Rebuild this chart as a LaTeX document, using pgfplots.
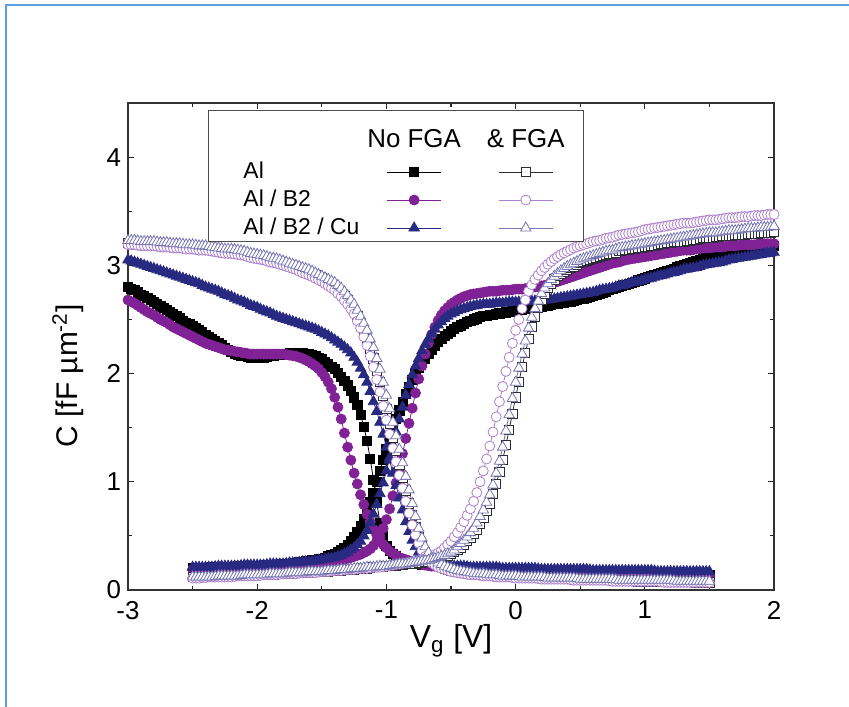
\documentclass[border=0pt]{standalone}
\usepackage{fontspec}
\setmainfont{Liberation Sans}
\usepackage{pgfplots}
\usepackage{pgfplotstable}
\pgfplotsset{compat=1.18}

\definecolor{cPur}{RGB}{128,34,150}
\definecolor{cNav}{RGB}{40,42,130}
\definecolor{cOsq}{RGB}{45,45,55}
\definecolor{cOci}{RGB}{172,128,204}
\definecolor{cOtr}{RGB}{118,118,178}
\definecolor{frameblue}{RGB}{92,160,222}

% descending sweep, no FGA: x, Al, Al/B2, Al/B2/Cu
\pgfplotstableread{
x al b2 cu
-3.000 2.80 2.68 3.05
-2.975 2.785 2.665 3.04
-2.950 2.77 2.65 3.03
-2.925 2.75 2.63 3.02
-2.900 2.73 2.61 3.01
-2.875 2.715 2.59 3.00
-2.850 2.70 2.57 2.99
-2.825 2.68 2.555 2.98
-2.800 2.66 2.54 2.97
-2.775 2.64 2.52 2.96
-2.750 2.62 2.50 2.95
-2.725 2.605 2.485 2.94
-2.700 2.59 2.47 2.93
-2.675 2.57 2.45 2.92
-2.650 2.55 2.43 2.91
-2.625 2.53 2.415 2.90
-2.600 2.51 2.40 2.89
-2.575 2.49 2.385 2.88
-2.550 2.47 2.37 2.87
-2.525 2.455 2.355 2.86
-2.500 2.44 2.34 2.85
-2.475 2.42 2.325 2.84
-2.450 2.40 2.31 2.83
-2.425 2.38 2.295 2.815
-2.400 2.36 2.28 2.80
-2.375 2.34 2.27 2.79
-2.350 2.32 2.26 2.78
-2.325 2.30 2.25 2.77
-2.300 2.28 2.24 2.76
-2.275 2.26 2.23 2.745
-2.250 2.24 2.22 2.73
-2.225 2.22 2.215 2.72
-2.200 2.20 2.21 2.71
-2.175 2.185 2.205 2.695
-2.150 2.17 2.20 2.68
-2.125 2.165 2.195 2.67
-2.100 2.16 2.19 2.66
-2.075 2.155 2.185 2.645
-2.050 2.15 2.18 2.63
-2.025 2.15 2.18 2.62
-2.000 2.15 2.18 2.61
-1.975 2.15 2.18 2.595
-1.950 2.15 2.18 2.58
-1.925 2.155 2.18 2.57
-1.900 2.16 2.18 2.56
-1.875 2.165 2.18 2.545
-1.850 2.17 2.18 2.53
-1.825 2.175 2.18 2.52
-1.800 2.18 2.18 2.51
-1.775 2.185 2.175 2.50
-1.750 2.19 2.17 2.49
-1.725 2.19 2.165 2.48
-1.700 2.19 2.16 2.47
-1.675 2.19 2.15 2.46
-1.650 2.19 2.14 2.45
-1.625 2.185 2.125 2.44
-1.600 2.18 2.11 2.43
-1.575 2.17 2.09 2.42
-1.550 2.16 2.07 2.41
-1.525 2.145 2.045 2.395
-1.500 2.13 2.01 2.38
-1.475 2.11 1.97 2.365
-1.450 2.09 1.92 2.35
-1.425 2.065 1.86 2.33
-1.400 2.04 1.78 2.31
-1.375 2.005 1.69 2.29
-1.350 1.97 1.58 2.27
-1.325 1.93 1.45 2.245
-1.300 1.89 1.32 2.22
-1.275 1.84 1.20 2.19
-1.250 1.78 1.08 2.15
-1.225 1.71 0.98 2.105
-1.200 1.62 0.88 2.05
-1.175 1.51 0.79 1.99
-1.150 1.38 0.70 1.92
-1.125 1.21 0.63 1.835
-1.100 1.02 0.56 1.74
-1.075 0.81 0.51 1.65
-1.050 0.62 0.46 1.55
-1.025 0.50 0.42 1.44
-1.000 0.41 0.39 1.32
-0.975 0.36 0.36 1.20
-0.950 0.33 0.34 1.08
-0.925 0.31 0.32 0.965
-0.900 0.29 0.30 0.85
-0.875 0.28 0.29 0.74
-0.850 0.27 0.28 0.63
-0.825 0.26 0.27 0.54
-0.800 0.25 0.26 0.46
-0.775 0.245 0.25 0.40
-0.750 0.24 0.24 0.35
-0.725 0.235 0.235 0.32
-0.700 0.23 0.23 0.29
-0.675 0.23 0.225 0.275
-0.650 0.23 0.22 0.26
-0.625 0.225 0.22 0.25
-0.600 0.22 0.22 0.24
-0.575 0.22 0.215 0.235
-0.550 0.22 0.21 0.23
-0.525 0.215 0.21 0.225
-0.500 0.21 0.21 0.22
-0.475 0.21 0.205 0.22
-0.450 0.21 0.20 0.22
-0.425 0.21 0.20 0.22
-0.400 0.21 0.20 0.22
-0.375 0.205 0.20 0.215
-0.350 0.20 0.20 0.21
-0.325 0.20 0.195 0.21
-0.300 0.20 0.19 0.21
-0.275 0.20 0.19 0.21
-0.250 0.20 0.19 0.21
-0.225 0.195 0.19 0.21
-0.200 0.19 0.19 0.21
-0.175 0.19 0.185 0.21
-0.150 0.19 0.18 0.21
-0.125 0.19 0.18 0.205
-0.100 0.19 0.18 0.20
-0.075 0.185 0.18 0.20
-0.050 0.18 0.18 0.20
-0.025 0.18 0.175 0.20
0.000 0.18 0.17 0.20
0.025 0.18 0.17 0.20
0.050 0.18 0.17 0.20
0.075 0.18 0.17 0.20
0.100 0.18 0.17 0.20
0.125 0.175 0.17 0.20
0.150 0.17 0.17 0.20
0.175 0.17 0.17 0.195
0.200 0.17 0.17 0.19
0.225 0.17 0.165 0.19
0.250 0.17 0.16 0.19
0.275 0.17 0.16 0.19
0.300 0.17 0.16 0.19
0.325 0.17 0.16 0.19
0.350 0.17 0.16 0.19
0.375 0.165 0.16 0.19
0.400 0.16 0.16 0.19
0.425 0.16 0.16 0.19
0.450 0.16 0.16 0.19
0.475 0.16 0.16 0.19
0.500 0.16 0.16 0.19
0.525 0.16 0.155 0.19
0.550 0.16 0.15 0.19
0.575 0.16 0.15 0.185
0.600 0.16 0.15 0.18
0.625 0.16 0.15 0.18
0.650 0.16 0.15 0.18
0.675 0.16 0.15 0.18
0.700 0.16 0.15 0.18
0.725 0.155 0.15 0.18
0.750 0.15 0.15 0.18
0.775 0.15 0.15 0.18
0.800 0.15 0.15 0.18
0.825 0.15 0.15 0.18
0.850 0.15 0.15 0.18
0.875 0.15 0.15 0.18
0.900 0.15 0.15 0.18
0.925 0.15 0.145 0.18
0.950 0.15 0.14 0.18
0.975 0.15 0.14 0.18
1.000 0.15 0.14 0.18
1.025 0.15 0.14 0.18
1.050 0.15 0.14 0.18
1.075 0.15 0.14 0.175
1.100 0.15 0.14 0.17
1.125 0.145 0.14 0.17
1.150 0.14 0.14 0.17
1.175 0.14 0.14 0.17
1.200 0.14 0.14 0.17
1.225 0.14 0.14 0.17
1.250 0.14 0.14 0.17
1.275 0.14 0.14 0.17
1.300 0.14 0.14 0.17
1.325 0.14 0.135 0.17
1.350 0.14 0.13 0.17
1.375 0.14 0.13 0.17
1.400 0.14 0.13 0.17
1.425 0.14 0.13 0.17
1.450 0.14 0.13 0.17
1.475 0.14 0.13 0.17
1.500 0.14 0.13 0.17
}\DN

% ascending sweep, no FGA
\pgfplotstableread{
x al b2 cu
-2.500 0.20 0.19 0.21
-2.475 0.20 0.19 0.21
-2.450 0.20 0.19 0.21
-2.425 0.20 0.19 0.21
-2.400 0.20 0.19 0.21
-2.375 0.205 0.195 0.21
-2.350 0.21 0.20 0.21
-2.325 0.21 0.20 0.215
-2.300 0.21 0.20 0.22
-2.275 0.21 0.20 0.22
-2.250 0.21 0.20 0.22
-2.225 0.21 0.20 0.22
-2.200 0.21 0.20 0.22
-2.175 0.215 0.205 0.22
-2.150 0.22 0.21 0.22
-2.125 0.22 0.21 0.225
-2.100 0.22 0.21 0.23
-2.075 0.22 0.21 0.23
-2.050 0.22 0.21 0.23
-2.025 0.22 0.21 0.23
-2.000 0.22 0.21 0.23
-1.975 0.225 0.215 0.23
-1.950 0.23 0.22 0.23
-1.925 0.23 0.22 0.235
-1.900 0.23 0.22 0.24
-1.875 0.23 0.22 0.24
-1.850 0.23 0.22 0.24
-1.825 0.235 0.22 0.24
-1.800 0.24 0.22 0.24
-1.775 0.24 0.225 0.245
-1.750 0.24 0.23 0.25
-1.725 0.245 0.23 0.25
-1.700 0.25 0.23 0.25
-1.675 0.255 0.235 0.255
-1.650 0.26 0.24 0.26
-1.625 0.265 0.24 0.26
-1.600 0.27 0.24 0.26
-1.575 0.275 0.245 0.265
-1.550 0.28 0.25 0.27
-1.525 0.285 0.25 0.275
-1.500 0.29 0.25 0.28
-1.475 0.30 0.255 0.285
-1.450 0.31 0.26 0.29
-1.425 0.32 0.265 0.295
-1.400 0.33 0.27 0.30
-1.375 0.35 0.275 0.31
-1.350 0.37 0.28 0.32
-1.325 0.39 0.285 0.335
-1.300 0.42 0.29 0.35
-1.275 0.45 0.30 0.37
-1.250 0.49 0.31 0.39
-1.225 0.54 0.32 0.42
-1.200 0.59 0.33 0.45
-1.175 0.66 0.345 0.50
-1.150 0.73 0.36 0.55
-1.125 0.81 0.38 0.62
-1.100 0.90 0.41 0.70
-1.075 1.00 0.45 0.79
-1.050 1.10 0.50 0.89
-1.025 1.20 0.57 0.99
-1.000 1.30 0.65 1.10
-0.975 1.40 0.75 1.22
-0.950 1.49 0.87 1.34
-0.925 1.58 0.99 1.46
-0.900 1.66 1.12 1.58
-0.875 1.74 1.26 1.69
-0.850 1.81 1.40 1.80
-0.825 1.88 1.54 1.90
-0.800 1.94 1.68 1.99
-0.775 2.00 1.82 2.07
-0.750 2.05 1.95 2.14
-0.725 2.10 2.07 2.21
-0.700 2.14 2.18 2.27
-0.675 2.18 2.28 2.32
-0.650 2.22 2.36 2.37
-0.625 2.26 2.43 2.41
-0.600 2.29 2.49 2.45
-0.575 2.32 2.54 2.48
-0.550 2.35 2.58 2.51
-0.525 2.37 2.61 2.53
-0.500 2.39 2.64 2.55
-0.475 2.41 2.66 2.565
-0.450 2.43 2.68 2.58
-0.425 2.445 2.695 2.59
-0.400 2.46 2.71 2.60
-0.375 2.475 2.72 2.61
-0.350 2.49 2.73 2.62
-0.325 2.50 2.735 2.625
-0.300 2.51 2.74 2.63
-0.275 2.52 2.745 2.635
-0.250 2.53 2.75 2.64
-0.225 2.535 2.755 2.64
-0.200 2.54 2.76 2.64
-0.175 2.545 2.76 2.645
-0.150 2.55 2.76 2.65
-0.125 2.555 2.765 2.65
-0.100 2.56 2.77 2.65
-0.075 2.565 2.77 2.655
-0.050 2.57 2.77 2.66
-0.025 2.575 2.775 2.66
0.000 2.58 2.78 2.66
0.025 2.585 2.78 2.66
0.050 2.59 2.78 2.66
0.075 2.595 2.785 2.665
0.100 2.60 2.79 2.67
0.125 2.605 2.795 2.67
0.150 2.61 2.80 2.67
0.175 2.615 2.805 2.675
0.200 2.62 2.81 2.68
0.225 2.625 2.815 2.68
0.250 2.63 2.82 2.68
0.275 2.635 2.83 2.685
0.300 2.64 2.84 2.69
0.325 2.645 2.85 2.695
0.350 2.65 2.86 2.70
0.375 2.655 2.87 2.705
0.400 2.66 2.88 2.71
0.425 2.665 2.89 2.715
0.450 2.67 2.90 2.72
0.475 2.68 2.91 2.725
0.500 2.69 2.92 2.73
0.525 2.695 2.93 2.735
0.550 2.70 2.94 2.74
0.575 2.71 2.95 2.745
0.600 2.72 2.96 2.75
0.625 2.73 2.97 2.76
0.650 2.74 2.98 2.77
0.675 2.75 2.99 2.775
0.700 2.76 3.00 2.78
0.725 2.77 3.01 2.785
0.750 2.78 3.02 2.79
0.775 2.79 3.025 2.80
0.800 2.80 3.03 2.81
0.825 2.81 3.04 2.815
0.850 2.82 3.05 2.82
0.875 2.83 3.055 2.83
0.900 2.84 3.06 2.84
0.925 2.85 3.065 2.845
0.950 2.86 3.07 2.85
0.975 2.87 3.075 2.86
1.000 2.88 3.08 2.87
1.025 2.89 3.085 2.875
1.050 2.90 3.09 2.88
1.075 2.91 3.095 2.89
1.100 2.92 3.10 2.90
1.125 2.93 3.105 2.905
1.150 2.94 3.11 2.91
1.175 2.95 3.115 2.92
1.200 2.96 3.12 2.93
1.225 2.97 3.125 2.935
1.250 2.98 3.13 2.94
1.275 2.99 3.135 2.95
1.300 3.00 3.14 2.96
1.325 3.01 3.14 2.965
1.350 3.02 3.14 2.97
1.375 3.03 3.145 2.975
1.400 3.04 3.15 2.98
1.425 3.05 3.155 2.99
1.450 3.06 3.16 3.00
1.475 3.065 3.16 3.005
1.500 3.07 3.16 3.01
1.525 3.08 3.165 3.015
1.550 3.09 3.17 3.02
1.575 3.095 3.17 3.025
1.600 3.10 3.17 3.03
1.625 3.105 3.175 3.04
1.650 3.11 3.18 3.05
1.675 3.115 3.18 3.055
1.700 3.12 3.18 3.06
1.725 3.125 3.185 3.065
1.750 3.13 3.19 3.07
1.775 3.135 3.19 3.075
1.800 3.14 3.19 3.08
1.825 3.145 3.19 3.085
1.850 3.15 3.19 3.09
1.875 3.155 3.195 3.095
1.900 3.16 3.20 3.10
1.925 3.165 3.20 3.105
1.950 3.17 3.20 3.11
1.975 3.175 3.20 3.115
2.000 3.18 3.20 3.12
}\AN

% descending sweep, after FGA
\pgfplotstableread{
x al b2 cu
-3.000 3.21 3.19 3.23
-2.975 3.21 3.19 3.23
-2.950 3.21 3.19 3.23
-2.925 3.205 3.185 3.225
-2.900 3.20 3.18 3.22
-2.875 3.20 3.18 3.22
-2.850 3.20 3.18 3.22
-2.825 3.20 3.18 3.22
-2.800 3.20 3.18 3.22
-2.775 3.195 3.175 3.215
-2.750 3.19 3.17 3.21
-2.725 3.19 3.17 3.21
-2.700 3.19 3.17 3.21
-2.675 3.185 3.165 3.205
-2.650 3.18 3.16 3.20
-2.625 3.18 3.16 3.20
-2.600 3.18 3.16 3.20
-2.575 3.175 3.155 3.195
-2.550 3.17 3.15 3.19
-2.525 3.17 3.15 3.19
-2.500 3.17 3.15 3.19
-2.475 3.165 3.145 3.185
-2.450 3.16 3.14 3.18
-2.425 3.16 3.14 3.18
-2.400 3.16 3.14 3.18
-2.375 3.155 3.135 3.175
-2.350 3.15 3.13 3.17
-2.325 3.145 3.125 3.165
-2.300 3.14 3.12 3.16
-2.275 3.135 3.115 3.155
-2.250 3.13 3.11 3.15
-2.225 3.13 3.11 3.15
-2.200 3.13 3.11 3.15
-2.175 3.125 3.105 3.145
-2.150 3.12 3.10 3.14
-2.125 3.115 3.095 3.135
-2.100 3.11 3.09 3.13
-2.075 3.10 3.08 3.12
-2.050 3.09 3.07 3.11
-2.025 3.085 3.065 3.105
-2.000 3.08 3.06 3.10
-1.975 3.075 3.055 3.095
-1.950 3.07 3.05 3.09
-1.925 3.06 3.04 3.08
-1.900 3.05 3.03 3.07
-1.875 3.045 3.025 3.065
-1.850 3.04 3.02 3.06
-1.825 3.03 3.01 3.05
-1.800 3.02 3.00 3.04
-1.775 3.01 2.99 3.03
-1.750 3.00 2.98 3.02
-1.725 2.99 2.97 3.01
-1.700 2.98 2.96 3.00
-1.675 2.97 2.945 2.99
-1.650 2.96 2.93 2.98
-1.625 2.95 2.92 2.97
-1.600 2.94 2.91 2.96
-1.575 2.925 2.895 2.945
-1.550 2.91 2.88 2.93
-1.525 2.895 2.865 2.915
-1.500 2.88 2.85 2.90
-1.475 2.86 2.83 2.885
-1.450 2.84 2.81 2.87
-1.425 2.82 2.79 2.855
-1.400 2.80 2.77 2.84
-1.375 2.775 2.74 2.815
-1.350 2.75 2.71 2.79
-1.325 2.715 2.675 2.755
-1.300 2.68 2.64 2.72
-1.275 2.635 2.595 2.68
-1.250 2.59 2.55 2.64
-1.225 2.53 2.485 2.585
-1.200 2.47 2.42 2.53
-1.175 2.395 2.34 2.465
-1.150 2.32 2.26 2.40
-1.125 2.23 2.16 2.32
-1.100 2.14 2.06 2.24
-1.075 2.03 1.945 2.14
-1.050 1.92 1.83 2.04
-1.025 1.795 1.70 1.92
-1.000 1.67 1.57 1.80
-0.975 1.54 1.44 1.675
-0.950 1.41 1.31 1.55
-0.925 1.285 1.185 1.425
-0.900 1.16 1.06 1.30
-0.875 1.04 0.94 1.175
-0.850 0.92 0.82 1.05
-0.825 0.80 0.71 0.925
-0.800 0.69 0.60 0.80
-0.775 0.585 0.51 0.68
-0.750 0.49 0.43 0.57
-0.725 0.415 0.365 0.48
-0.700 0.35 0.31 0.40
-0.675 0.305 0.275 0.345
-0.650 0.27 0.25 0.30
-0.625 0.25 0.23 0.275
-0.600 0.23 0.21 0.25
-0.575 0.215 0.20 0.235
-0.550 0.20 0.19 0.22
-0.525 0.19 0.18 0.21
-0.500 0.18 0.17 0.20
-0.475 0.175 0.165 0.19
-0.450 0.17 0.16 0.18
-0.425 0.165 0.155 0.175
-0.400 0.16 0.15 0.17
-0.375 0.155 0.145 0.165
-0.350 0.15 0.14 0.16
-0.325 0.145 0.14 0.155
-0.300 0.14 0.14 0.15
-0.275 0.14 0.135 0.15
-0.250 0.14 0.13 0.15
-0.225 0.135 0.13 0.145
-0.200 0.13 0.13 0.14
-0.175 0.13 0.125 0.14
-0.150 0.13 0.12 0.14
-0.125 0.13 0.12 0.135
-0.100 0.13 0.12 0.13
-0.075 0.125 0.12 0.13
-0.050 0.12 0.12 0.13
-0.025 0.12 0.115 0.13
0.000 0.12 0.11 0.13
0.025 0.12 0.11 0.125
0.050 0.12 0.11 0.12
0.075 0.115 0.11 0.12
0.100 0.11 0.11 0.12
0.125 0.11 0.11 0.12
0.150 0.11 0.11 0.12
0.175 0.11 0.105 0.12
0.200 0.11 0.10 0.12
0.225 0.11 0.10 0.115
0.250 0.11 0.10 0.11
0.275 0.105 0.10 0.11
0.300 0.10 0.10 0.11
0.325 0.10 0.10 0.11
0.350 0.10 0.10 0.11
0.375 0.10 0.10 0.11
0.400 0.10 0.10 0.11
0.425 0.10 0.095 0.11
0.450 0.10 0.09 0.11
0.475 0.10 0.09 0.105
0.500 0.10 0.09 0.10
0.525 0.10 0.09 0.10
0.550 0.10 0.09 0.10
0.575 0.095 0.09 0.10
0.600 0.09 0.09 0.10
0.625 0.09 0.09 0.10
0.650 0.09 0.09 0.10
0.675 0.09 0.09 0.10
0.700 0.09 0.09 0.10
0.725 0.09 0.085 0.10
0.750 0.09 0.08 0.10
0.775 0.09 0.08 0.095
0.800 0.09 0.08 0.09
0.825 0.09 0.08 0.09
0.850 0.09 0.08 0.09
0.875 0.09 0.08 0.09
0.900 0.09 0.08 0.09
0.925 0.085 0.08 0.09
0.950 0.08 0.08 0.09
0.975 0.08 0.08 0.09
1.000 0.08 0.08 0.09
1.025 0.08 0.08 0.09
1.050 0.08 0.08 0.09
1.075 0.08 0.08 0.09
1.100 0.08 0.08 0.09
1.125 0.08 0.075 0.09
1.150 0.08 0.07 0.09
1.175 0.08 0.07 0.09
1.200 0.08 0.07 0.09
1.225 0.08 0.07 0.085
1.250 0.08 0.07 0.08
1.275 0.08 0.07 0.08
1.300 0.08 0.07 0.08
1.325 0.08 0.07 0.08
1.350 0.08 0.07 0.08
1.375 0.075 0.07 0.08
1.400 0.07 0.07 0.08
1.425 0.07 0.07 0.08
1.450 0.07 0.07 0.08
1.475 0.07 0.07 0.08
1.500 0.07 0.07 0.08
}\DF

% ascending sweep, after FGA
\pgfplotstableread{
x al b2 cu
-2.500 0.12 0.11 0.12
-2.475 0.12 0.11 0.12
-2.450 0.12 0.11 0.12
-2.425 0.12 0.115 0.12
-2.400 0.12 0.115 0.12
-2.375 0.12 0.12 0.12
-2.350 0.12 0.12 0.12
-2.325 0.125 0.12 0.125
-2.300 0.13 0.12 0.13
-2.275 0.13 0.12 0.13
-2.250 0.13 0.12 0.13
-2.225 0.13 0.12 0.13
-2.200 0.13 0.12 0.13
-2.175 0.13 0.125 0.13
-2.150 0.13 0.13 0.13
-2.125 0.13 0.13 0.135
-2.100 0.13 0.13 0.14
-2.075 0.135 0.13 0.14
-2.050 0.14 0.13 0.14
-2.025 0.14 0.13 0.14
-2.000 0.14 0.13 0.14
-1.975 0.14 0.135 0.14
-1.950 0.14 0.14 0.14
-1.925 0.14 0.14 0.145
-1.900 0.14 0.14 0.15
-1.875 0.145 0.14 0.15
-1.850 0.15 0.14 0.15
-1.825 0.15 0.145 0.15
-1.800 0.15 0.15 0.15
-1.775 0.15 0.15 0.155
-1.750 0.15 0.15 0.16
-1.725 0.155 0.15 0.16
-1.700 0.16 0.15 0.16
-1.675 0.16 0.155 0.16
-1.650 0.16 0.16 0.16
-1.625 0.16 0.16 0.165
-1.600 0.16 0.16 0.17
-1.575 0.165 0.16 0.17
-1.550 0.17 0.16 0.17
-1.525 0.17 0.165 0.17
-1.500 0.17 0.17 0.17
-1.475 0.17 0.17 0.175
-1.450 0.17 0.17 0.18
-1.425 0.175 0.175 0.18
-1.400 0.18 0.18 0.18
-1.375 0.18 0.18 0.185
-1.350 0.18 0.18 0.19
-1.325 0.185 0.185 0.19
-1.300 0.19 0.19 0.19
-1.275 0.19 0.19 0.195
-1.250 0.19 0.19 0.20
-1.225 0.195 0.195 0.20
-1.200 0.20 0.20 0.20
-1.175 0.20 0.20 0.205
-1.150 0.20 0.20 0.21
-1.125 0.205 0.205 0.21
-1.100 0.21 0.21 0.21
-1.075 0.21 0.21 0.215
-1.050 0.21 0.21 0.22
-1.025 0.215 0.215 0.22
-1.000 0.22 0.22 0.22
-0.975 0.22 0.225 0.225
-0.950 0.22 0.23 0.23
-0.925 0.225 0.235 0.235
-0.900 0.23 0.24 0.24
-0.875 0.235 0.245 0.24
-0.850 0.24 0.25 0.24
-0.825 0.24 0.255 0.245
-0.800 0.24 0.26 0.25
-0.775 0.245 0.265 0.255
-0.750 0.25 0.27 0.26
-0.725 0.255 0.28 0.265
-0.700 0.26 0.29 0.27
-0.675 0.265 0.30 0.275
-0.650 0.27 0.31 0.28
-0.625 0.28 0.325 0.29
-0.600 0.29 0.34 0.30
-0.575 0.30 0.36 0.31
-0.550 0.31 0.39 0.32
-0.525 0.32 0.42 0.335
-0.500 0.33 0.45 0.35
-0.475 0.35 0.49 0.37
-0.450 0.37 0.53 0.40
-0.425 0.39 0.58 0.43
-0.400 0.42 0.63 0.46
-0.375 0.45 0.69 0.49
-0.350 0.48 0.75 0.53
-0.325 0.52 0.82 0.57
-0.300 0.56 0.90 0.62
-0.275 0.61 1.00 0.68
-0.250 0.67 1.10 0.74
-0.225 0.73 1.21 0.81
-0.200 0.80 1.33 0.88
-0.175 0.89 1.46 0.97
-0.150 0.98 1.60 1.08
-0.125 1.09 1.74 1.19
-0.100 1.20 1.88 1.32
-0.075 1.34 2.02 1.47
-0.050 1.48 2.15 1.62
-0.025 1.63 2.28 1.77
0.000 1.78 2.40 1.92
0.025 1.92 2.50 2.05
0.050 2.06 2.60 2.18
0.075 2.19 2.68 2.30
0.100 2.32 2.76 2.42
0.125 2.43 2.82 2.52
0.150 2.52 2.87 2.60
0.175 2.61 2.91 2.67
0.200 2.68 2.95 2.74
0.225 2.74 2.98 2.79
0.250 2.79 3.01 2.83
0.275 2.83 3.035 2.87
0.300 2.87 3.06 2.90
0.325 2.90 3.08 2.925
0.350 2.92 3.10 2.95
0.375 2.94 3.115 2.97
0.400 2.96 3.13 2.99
0.425 2.975 3.145 3.005
0.450 2.99 3.16 3.02
0.475 3.005 3.17 3.035
0.500 3.02 3.18 3.05
0.525 3.03 3.19 3.06
0.550 3.04 3.20 3.07
0.575 3.05 3.21 3.08
0.600 3.06 3.22 3.09
0.625 3.07 3.225 3.10
0.650 3.08 3.23 3.11
0.675 3.09 3.24 3.12
0.700 3.10 3.25 3.13
0.725 3.105 3.255 3.135
0.750 3.11 3.26 3.14
0.775 3.12 3.27 3.15
0.800 3.13 3.28 3.16
0.825 3.135 3.285 3.165
0.850 3.14 3.29 3.17
0.875 3.145 3.295 3.175
0.900 3.15 3.30 3.18
0.925 3.155 3.305 3.185
0.950 3.16 3.31 3.19
0.975 3.165 3.32 3.195
1.000 3.17 3.33 3.20
1.025 3.175 3.335 3.205
1.050 3.18 3.34 3.21
1.075 3.185 3.345 3.215
1.100 3.19 3.35 3.22
1.125 3.195 3.355 3.225
1.150 3.20 3.36 3.23
1.175 3.205 3.365 3.235
1.200 3.21 3.37 3.24
1.225 3.215 3.375 3.245
1.250 3.22 3.38 3.25
1.275 3.22 3.385 3.255
1.300 3.22 3.39 3.26
1.325 3.225 3.39 3.265
1.350 3.23 3.39 3.27
1.375 3.235 3.395 3.275
1.400 3.24 3.40 3.28
1.425 3.245 3.405 3.285
1.450 3.25 3.41 3.29
1.475 3.25 3.415 3.295
1.500 3.25 3.42 3.30
1.525 3.255 3.42 3.30
1.550 3.26 3.42 3.30
1.575 3.265 3.425 3.305
1.600 3.27 3.43 3.31
1.625 3.27 3.435 3.315
1.650 3.27 3.44 3.32
1.675 3.275 3.44 3.32
1.700 3.28 3.44 3.32
1.725 3.28 3.445 3.325
1.750 3.28 3.45 3.33
1.775 3.285 3.45 3.335
1.800 3.29 3.45 3.34
1.825 3.29 3.455 3.34
1.850 3.29 3.46 3.34
1.875 3.295 3.46 3.345
1.900 3.30 3.46 3.35
1.925 3.30 3.465 3.35
1.950 3.30 3.47 3.35
1.975 3.305 3.47 3.355
2.000 3.31 3.47 3.36
}\AF

\pgfplotsset{
  sAl/.style={black, line width=0.4bp, mark=square*, mark size=2.3bp, mark options={solid, fill=black}},
  sB/.style={cPur, line width=0.4bp, mark=*, mark size=2.5bp, mark options={solid, fill=cPur}},
  sCu/.style={cNav, line width=0.4bp, mark=triangle*, mark size=3bp, mark options={solid, fill=cNav}},
  oAl/.style={cOsq, line width=0.4bp, mark=square*, mark size=2.3bp, mark options={solid, fill=white}},
  oB/.style={cOci, line width=0.4bp, mark=*, mark size=2.5bp, mark options={solid, fill=white}},
  oCu/.style={cOtr, line width=0.4bp, mark=triangle*, mark size=3bp, mark options={solid, fill=white}},
  lg/.style={legend image code/.code={%
    \draw[mark repeat=2, mark phase=2, ##1] plot coordinates {(0bp,0bp) (13.5bp,0bp) (27bp,0bp)};}},
}

\begin{document}
\begin{tikzpicture}
\useasboundingbox (0,0) rectangle (424.5bp,353.5bp);
\begin{axis}[
    at={(64bp,58.5bp)}, anchor=south west,
    scale only axis, width=323bp, height=243.5bp,
    xmin=-3, xmax=2, ymin=0, ymax=4.5,
    xtick={-3,-2,-1,0,1,2}, ytick={0,1,2,3,4},
    minor tick num=1,
    tick align=inside,
    major tick length=3bp, minor tick length=1.8bp,
    every tick/.style={black!85, line width=0.6bp},
    axis line style={black!80, line width=1bp},
    tick label style={font=\fontsize{13}{15}\selectfont},
    x tick label style={yshift=-2bp},
    /pgf/number format/assume math mode=true,
    xlabel={V\textsubscript{g} [V]},
    ylabel={C [fF µm\textsuperscript{-2}]},
    x label style={font=\fontsize{16}{18}\selectfont, at={(axis description cs:0.5,-0.105)}, anchor=center},
    y label style={font=\fontsize{15}{17}\selectfont, at={(axis description cs:-0.093,0.44)}, anchor=center},
    legend columns=3,
    legend cell align=left,
    legend style={at={(axis description cs:0.1238,0.9856)}, anchor=north west,
        draw=black!70, line width=0.5bp, fill=white,
        inner xsep=4bp, inner ysep=1bp,
        font=\fontsize{11.5}{13}\selectfont,
        nodes={inner sep=0pt, text height=8.5bp, text depth=2.5bp},
        row sep=3bp, column sep=0pt,
        /tikz/column 1/.style={column sep=13.5bp},
        /tikz/column 2/.style={column sep=4bp},
        /tikz/column 3/.style={column sep=12bp},
        /tikz/column 5/.style={column sep=4.5bp}},
]
% no FGA
\addplot[sAl, forget plot] table[x=x, y=al] {\DN};
\addplot[sAl, forget plot] table[x=x, y=al] {\AN};
\addplot[sB, forget plot] table[x=x, y=b2] {\DN};
\addplot[sB, forget plot] table[x=x, y=b2] {\AN};
\addplot[sCu, forget plot] table[x=x, y=cu] {\DN};
\addplot[sCu, forget plot] table[x=x, y=cu] {\AN};
% with FGA
\addplot[oAl, forget plot] table[x=x, y=al] {\DF};
\addplot[oAl, forget plot] table[x=x, y=al] {\AF};
\addplot[oB, forget plot] table[x=x, y=b2] {\DF};
\addplot[oB, forget plot] table[x=x, y=b2] {\AF};
\addplot[oCu, forget plot] table[x=x, y=cu] {\DF};
\addplot[oCu, forget plot] table[x=x, y=cu] {\AF};

% legend: header row, then one row per stack
\addlegendimage{empty legend}\addlegendentry{\mbox{}}
\addlegendimage{legend image code/.code={\node[font=\fontsize{13}{15}\selectfont, anchor=base, inner sep=0pt, text height=17.3bp, text depth=0pt] at (13.5bp,-1.55bp) {No FGA};}}\addlegendentry{\mbox{}}
\addlegendimage{legend image code/.code={\node[font=\fontsize{13}{15}\selectfont, anchor=base, inner sep=0pt, text height=17.3bp, text depth=0pt] at (13.5bp,-1.55bp) {\& FGA};}}\addlegendentry{\mbox{}}
\addlegendimage{empty legend}\addlegendentry{Al}
\addlegendimage{sAl, lg}\addlegendentry{\mbox{}}
\addlegendimage{oAl, lg}\addlegendentry{\mbox{}}
\addlegendimage{empty legend}\addlegendentry{Al / B2}
\addlegendimage{sB, lg}\addlegendentry{\mbox{}}
\addlegendimage{oB, lg}\addlegendentry{\mbox{}}
\addlegendimage{empty legend}\addlegendentry{Al / B2 / Cu}
\addlegendimage{sCu, lg}\addlegendentry{\mbox{}}
\addlegendimage{oCu, lg}\addlegendentry{\mbox{}}
\end{axis}
\draw[frameblue, line width=1bp] (3bp,0) -- (3bp,351bp) -- (424.5bp,351bp);
\end{tikzpicture}
\end{document}
